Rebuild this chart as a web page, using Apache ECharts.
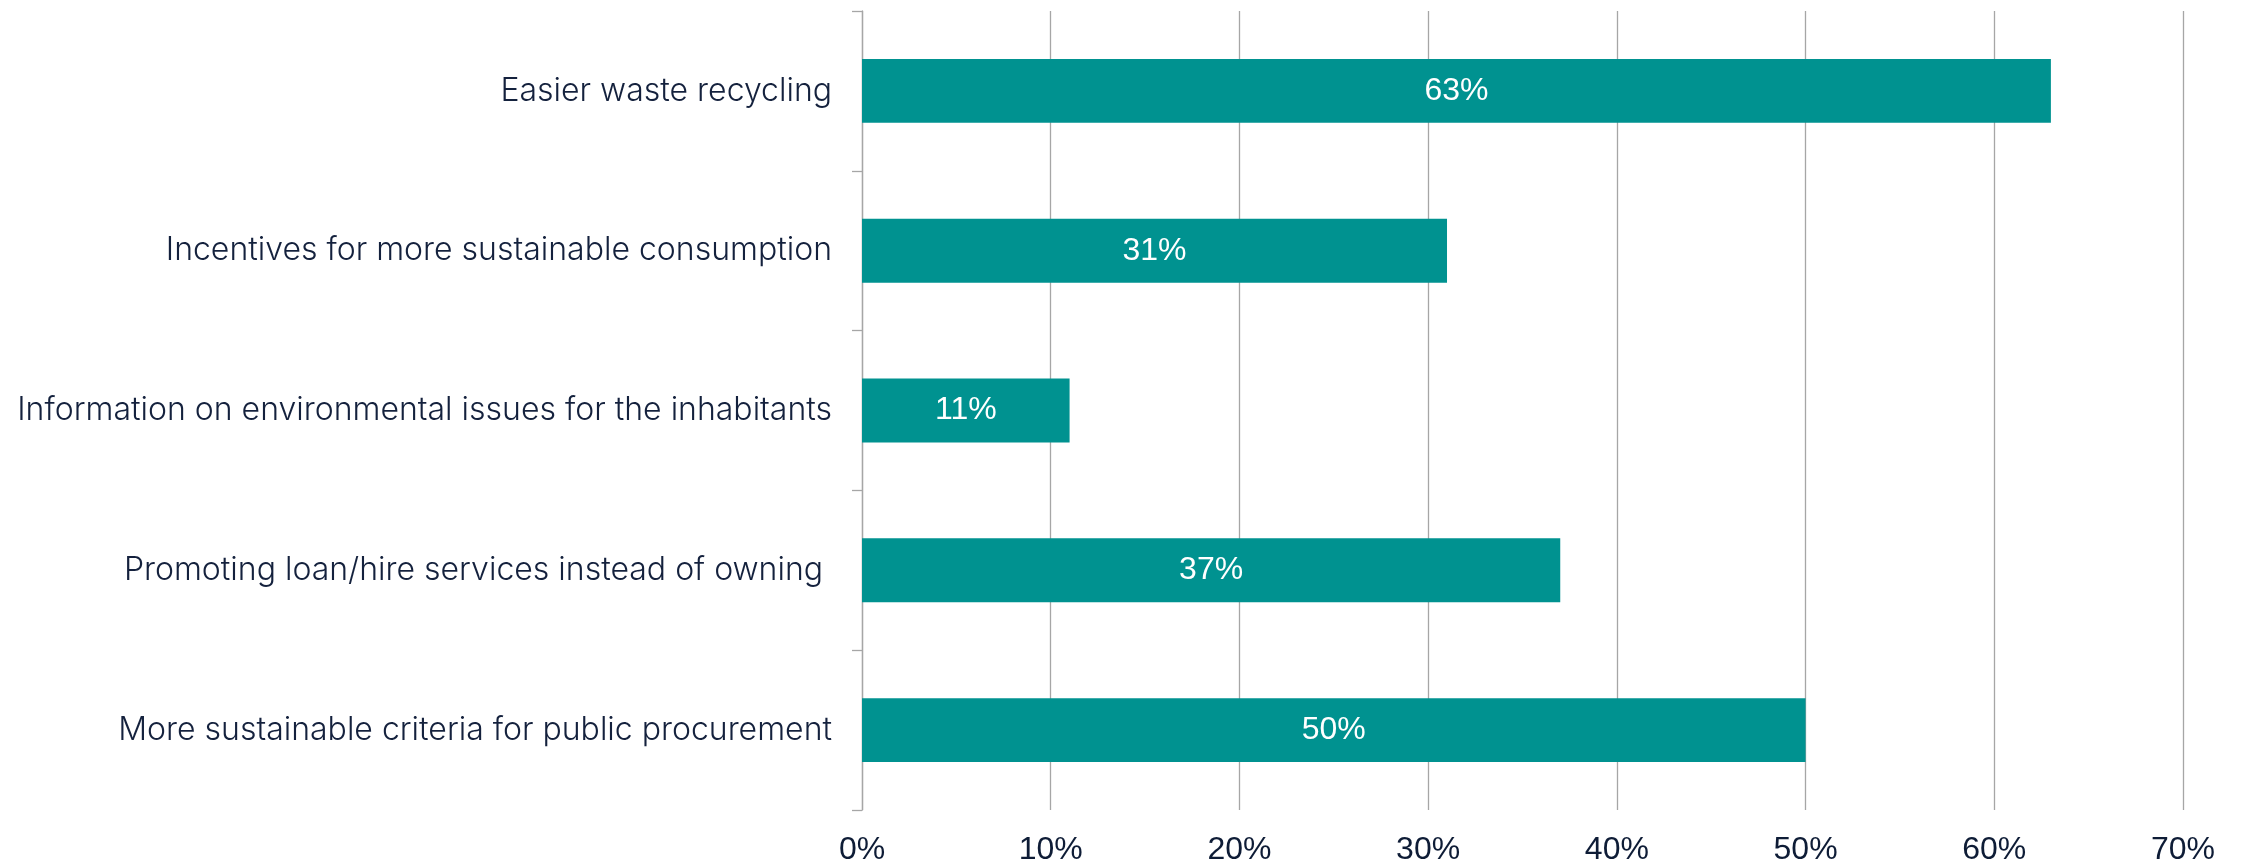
<!DOCTYPE html>
<html>
<head>
<meta charset="utf-8">
<script src="https://cdn.jsdelivr.net/npm/echarts@6/dist/echarts.min.js"></script>
<style>
html,body{margin:0;padding:0;background:#fff;}
#chart{width:2241px;height:866px;}
</style>
</head>
<body>
<div id="chart"></div>
<script>
const categories = [
  "Easier waste recycling",
  "Incentives for more sustainable consumption",
  "Information on environmental issues for the inhabitants",
  "Promoting loan/hire services instead of owning ",
  "More sustainable criteria for public procurement"
];
const values = [63, 31, 11, 37, 50];
const xTicks = [0, 10, 20, 30, 40, 50, 60, 70];

const chart = echarts.init(document.getElementById('chart'), null, {renderer: 'canvas'});
chart.setOption({
  animation: false,
  backgroundColor: '#ffffff',
  grid: {left: 862, right: 58, top: 11, bottom: 53, containLabel: false},
  xAxis: {
    type: 'value',
    min: xTicks[0],
    max: xTicks[xTicks.length - 1],
    interval: 10,
    axisLine: {show: false},
    axisTick: {show: false},
    splitLine: {show: true, lineStyle: {color: '#a6a6a6', width: 1.3}},
    axisLabel: {
      formatter: v => v + '%',
      fontFamily: '"Liberation Sans", Arial, sans-serif',
      fontSize: 32,
      color: '#0e1c36',
      margin: 24
    }
  },
  yAxis: {
    type: 'category',
    data: categories,
    inverse: true,
    axisLine: {show: true, lineStyle: {color: '#a6a6a6', width: 1.3}},
    axisTick: {show: true, length: 10, lineStyle: {color: '#a6a6a6', width: 1.3}},
    splitLine: {show: false},
    axisLabel: {
      fontFamily: 'Inter, "Noto Sans", sans-serif',
      fontWeight: 300,
      fontSize: 32,
      color: '#14213d',
      margin: 30
    }
  },
  series: [{
    type: 'bar',
    data: values,
    barWidth: '40%',
    itemStyle: {color: '#009290'},
    label: {
      show: true,
      position: 'inside',
      formatter: p => p.value + '%',
      fontFamily: '"Liberation Sans", Arial, sans-serif',
      fontSize: 32,
      color: '#ffffff'
    }
  }]
});
</script>
</body>
</html>
